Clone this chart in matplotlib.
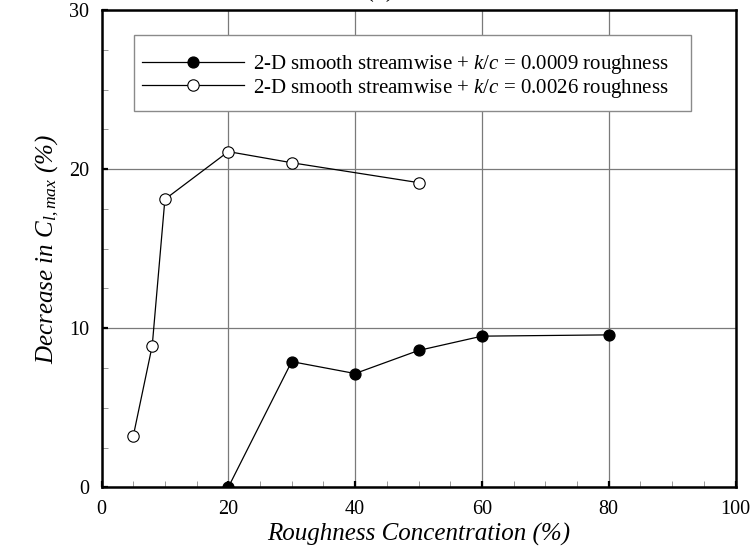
import matplotlib
matplotlib.use("Agg")
import matplotlib.pyplot as plt
from matplotlib.patches import Rectangle
from matplotlib.ticker import MultipleLocator

plt.rcParams["font.family"] = ["Liberation Serif", "DejaVu Serif"]
plt.rcParams["mathtext.fontset"] = "custom"
plt.rcParams["mathtext.rm"] = "Liberation Serif"
plt.rcParams["mathtext.it"] = "Liberation Serif:italic"

# Roughness concentration (%) vs decrease in Cl,max (%)
conc_k0009 = [20, 30, 40, 50, 60, 80]
dcl_k0009 = [0.0, 7.9, 7.15, 8.6, 9.5, 9.58]

conc_k0026 = [5, 8, 10, 20, 30, 50]
dcl_k0026 = [3.2, 8.9, 18.1, 21.1, 20.4, 19.15]

label_k0009 = "2-D smooth streamwise + $k/c$ = 0.0009 roughness"
label_k0026 = "2-D smooth streamwise + $k/c$ = 0.0026 roughness"

fig = plt.figure(figsize=(7.55, 5.5), dpi=100)
ax = fig.add_axes([101.5 / 755, 1 - 487.3 / 550, 634 / 755, 477.3 / 550])

ax.plot(conc_k0009, dcl_k0009, "-o", color="black", lw=0.9,
        markersize=7.8, markerfacecolor="black", markeredgecolor="black",
        label=label_k0009, zorder=3)
ax.plot(conc_k0026, dcl_k0026, "-o", color="black", lw=0.9,
        markersize=8.2, markerfacecolor="white", markeredgecolor="black",
        markeredgewidth=0.8, label=label_k0026, zorder=3)

ax.set_xlim(0, 100)
ax.set_ylim(0, 30)
ax.xaxis.set_major_locator(MultipleLocator(20))
ax.xaxis.set_minor_locator(MultipleLocator(5))
ax.yaxis.set_major_locator(MultipleLocator(10))
ax.yaxis.set_minor_locator(MultipleLocator(2.5))

ax.grid(True, which="major", color="#7a7a7a", lw=0.9)
ax.set_axisbelow(True)

for s in ax.spines.values():
    s.set_linewidth(1.8)
    s.set_color("black")

ax.tick_params(which="both", direction="in", top=False, right=False,
               labelsize=14.5, pad=9)
ax.tick_params(which="major", length=4.3, width=1.6)
ax.tick_params(which="minor", length=4.3, width=0.6, color="#888888")

ax.set_xlabel("Roughness Concentration (%)", fontsize=18, style="italic",
              labelpad=3)
ax.set_ylabel("Decrease in $C_{l,max}$ (%)", fontsize=18, style="italic",
              labelpad=6)

fig.text(380 / 755, 1.0 + 3 / 550, "(b)", fontsize=17, ha="center",
         va="baseline")

# Legend frame and entries
box = Rectangle((32.5 / 634, (487.3 - 111) / 477.3), 557 / 634, 76 / 477.3,
                transform=ax.transAxes, facecolor="white",
                edgecolor="#8a8a8a", lw=1.0, zorder=4)
ax.add_patch(box)
leg = ax.legend(loc="center left",
                bbox_to_anchor=(40 / 634, (487.3 - 76.5) / 477.3),
                frameon=False, fontsize=15, handlelength=4.9,
                handletextpad=0.45, labelspacing=0.0, borderpad=0.0,
                borderaxespad=0.0)
leg.set_zorder(5)

fig.savefig("out.png", dpi=100)
